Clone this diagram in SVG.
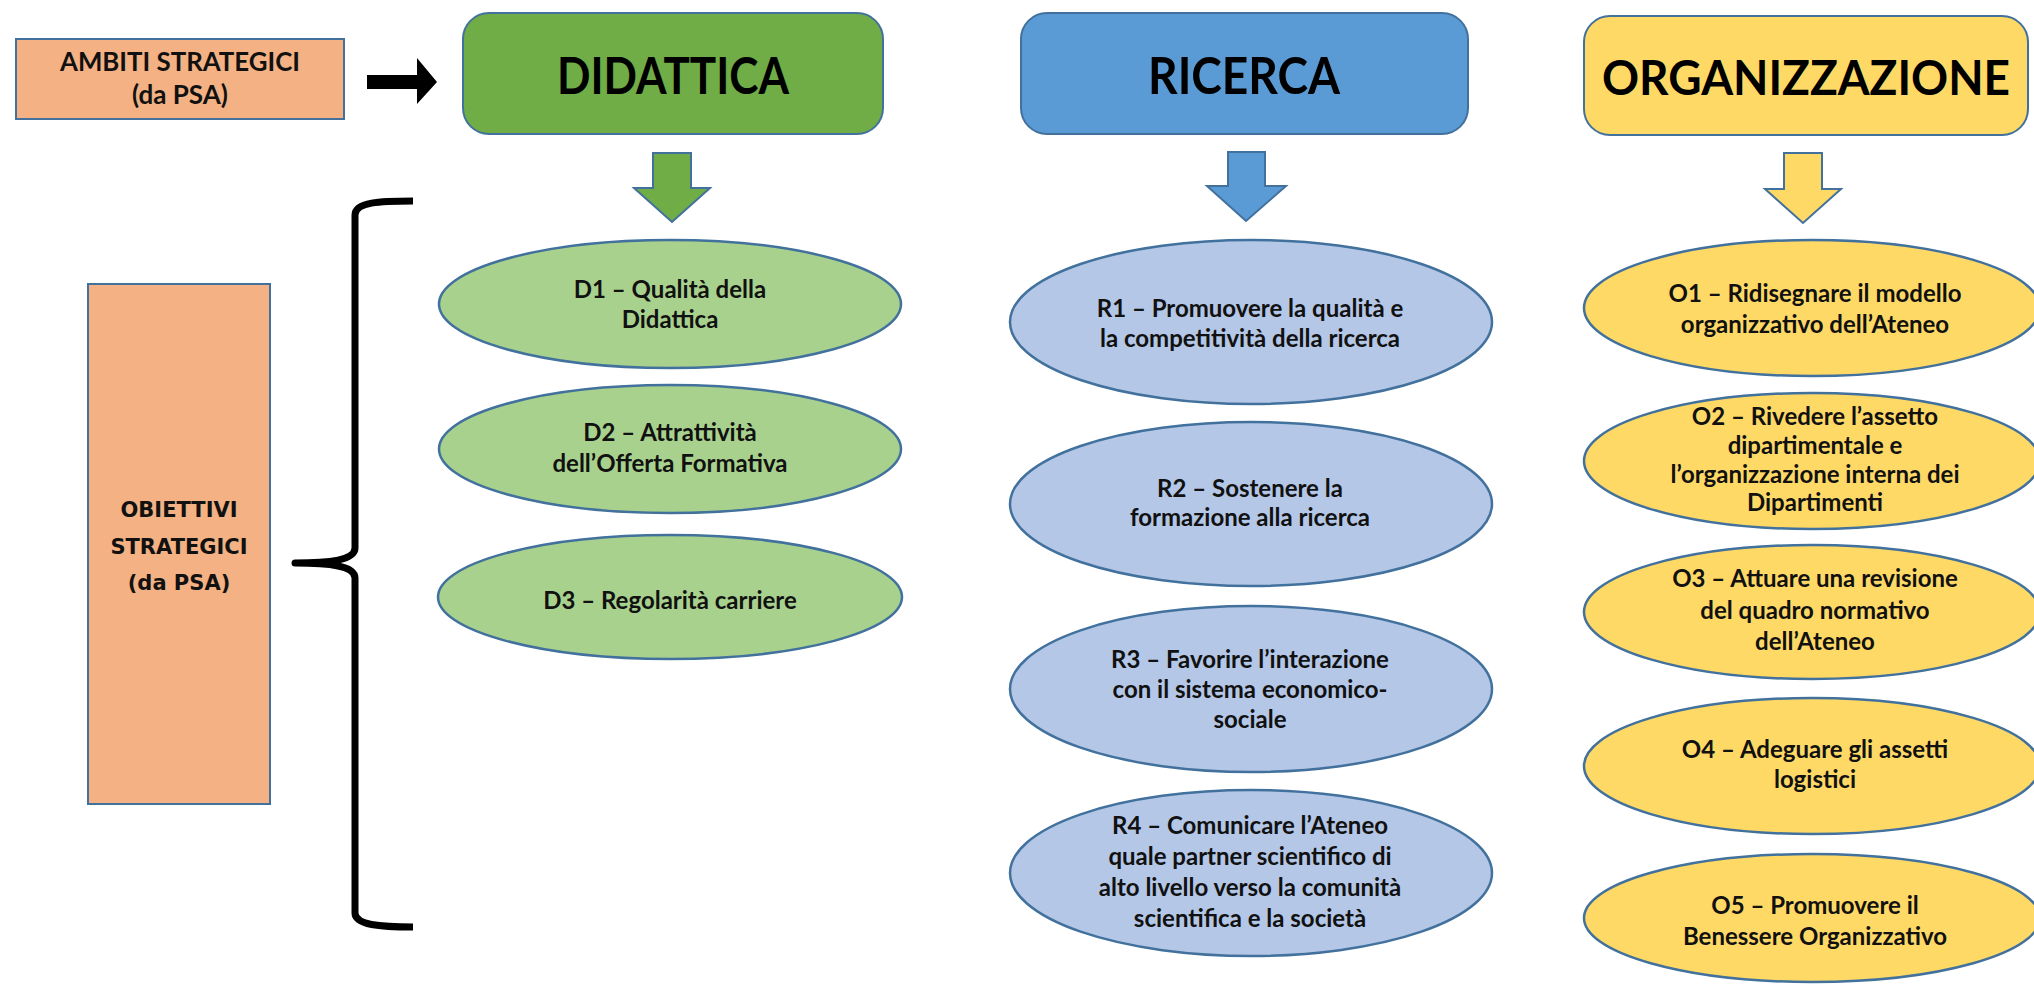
<svg xmlns="http://www.w3.org/2000/svg" width="2034" height="987" viewBox="0 0 2034 987">
<style>
.bg{fill:#ffffff}
.orange{fill:#F4B183;stroke:#41719C;stroke-width:2}
.hdr{stroke:#41719C;stroke-width:2}
.g{fill:#70AD47}
.b{fill:#5B9BD5}
.y{fill:#FFD966}
.el{stroke:#41719C;stroke-width:2.5}
.gl{fill:#A9D18E}
.bl{fill:#B4C7E7}
.yl{fill:#FFD966}
.arr{stroke:#41719C;stroke-width:2}
.t{font-family:Lato,"Liberation Sans",sans-serif;font-weight:bold;fill:#111;text-anchor:middle}
.h{font-size:52px;fill:#000}
.s{font-size:24px}
.ob{font-family:"DejaVu Sans",Verdana,sans-serif;font-weight:bold;font-size:21px;fill:#111;text-anchor:middle}
.brace{fill:none;stroke:#000;stroke-width:7;stroke-linejoin:round;stroke-linecap:butt}
</style>
<rect class="bg" x="0" y="0" width="2034" height="987"/>

<g id="ambiti">
<rect class="orange" x="16" y="39" width="328" height="80"/>
<text class="t" x="180" y="71" style="font-size:26px" textLength="240" lengthAdjust="spacingAndGlyphs">AMBITI STRATEGICI</text>
<text class="t" x="180" y="104" style="font-size:26px">(da PSA)</text>
</g>

<g id="obiettivi">
<rect class="orange" x="88" y="284" width="182" height="520"/>
<text class="ob" x="179" y="517">OBIETTIVI</text>
<text class="ob" x="179" y="554">STRATEGICI</text>
<text class="ob" x="179" y="590">(da PSA)</text>
</g>

<g id="didattica">
<rect class="hdr g" x="463" y="13" width="420" height="121" rx="26"/>
<text class="t h" x="673" y="94" textLength="232" lengthAdjust="spacingAndGlyphs">DIDATTICA</text>
</g>
<g id="ricerca">
<rect class="hdr b" x="1021" y="13" width="447" height="121" rx="26"/>
<text class="t h" x="1244" y="94" textLength="192" lengthAdjust="spacingAndGlyphs">RICERCA</text>
</g>
<g id="organizzazione">
<rect class="hdr y" x="1584" y="16" width="444" height="119" rx="26"/>
<text class="t" x="1806" y="95" style="font-size:47px;fill:#000" textLength="408" lengthAdjust="spacingAndGlyphs">ORGANIZZAZIONE</text>
</g>

<g id="connectors">
<path d="M367,75 H417 V58 L437,82 L417,104 V89 H367 Z" fill="#000"/>
<path class="arr g" d="M653,153 H691 V188 H710 L672,222 L634,188 H653 Z"/>
<path class="arr b" d="M1228,152 H1265 V186 H1286 L1246,221 L1207,186 H1228 Z"/>
<path class="arr y" d="M1784,153 H1822 V189 H1841 L1803,223 L1765,189 H1784 Z"/>
<path class="brace" d="M413,201 C380,201 355,202 355,215 V548 C355,560 330,563 295,563 C330,563 355,566 355,578 V913 C355,925 380,927 413,927"/>
</g>

<g id="D1"><ellipse class="el gl" cx="670" cy="304" rx="231" ry="64"/>
<text class="t s" x="670" y="298">D1 – Qualità della</text><text class="t s" x="670" y="328">Didattica</text></g>
<g id="D2"><ellipse class="el gl" cx="670" cy="449" rx="231" ry="64"/>
<text class="t s" x="670" y="441">D2 – Attrattività</text><text class="t s" x="670" y="472">dell’Offerta Formativa</text></g>
<g id="D3"><ellipse class="el gl" cx="670" cy="597" rx="232" ry="62"/>
<text class="t s" x="670" y="609">D3 – Regolarità carriere</text></g>

<g id="R1"><ellipse class="el bl" cx="1251" cy="322" rx="241" ry="82"/>
<text class="t s" x="1250" y="317">R1 – Promuovere la qualità e</text><text class="t s" x="1250" y="347">la competitività della ricerca</text></g>
<g id="R2"><ellipse class="el bl" cx="1251" cy="504" rx="241" ry="82"/>
<text class="t s" x="1250" y="497">R2 – Sostenere la</text><text class="t s" x="1250" y="526">formazione alla ricerca</text></g>
<g id="R3"><ellipse class="el bl" cx="1251" cy="689" rx="241" ry="83"/>
<text class="t s" x="1250" y="668">R3 – Favorire l’interazione</text><text class="t s" x="1250" y="698">con il sistema economico-</text><text class="t s" x="1250" y="728">sociale</text></g>
<g id="R4"><ellipse class="el bl" cx="1251" cy="873" rx="241" ry="83"/>
<text class="t s" x="1250" y="834">R4 – Comunicare l’Ateneo</text><text class="t s" x="1250" y="865">quale partner scientifico di</text><text class="t s" x="1250" y="896">alto livello verso la comunità</text><text class="t s" x="1250" y="927">scientifica e la società</text></g>

<g id="O1"><ellipse class="el yl" cx="1812" cy="308" rx="228" ry="68"/>
<text class="t s" x="1815" y="302">O1 – Ridisegnare il modello</text><text class="t s" x="1815" y="333">organizzativo dell’Ateneo</text></g>
<g id="O2"><ellipse class="el yl" cx="1812" cy="461" rx="228" ry="68"/>
<text class="t s" x="1815" y="425">O2 – Rivedere l’assetto</text><text class="t s" x="1815" y="454">dipartimentale e</text><text class="t s" x="1815" y="483">l’organizzazione interna dei</text><text class="t s" x="1815" y="511">Dipartimenti</text></g>
<g id="O3"><ellipse class="el yl" cx="1812" cy="612" rx="228" ry="67"/>
<text class="t s" x="1815" y="587">O3 – Attuare una revisione</text><text class="t s" x="1815" y="619">del quadro normativo</text><text class="t s" x="1815" y="650">dell’Ateneo</text></g>
<g id="O4"><ellipse class="el yl" cx="1812" cy="766" rx="228" ry="68"/>
<text class="t s" x="1815" y="758">O4 – Adeguare gli assetti</text><text class="t s" x="1815" y="788">logistici</text></g>
<g id="O5"><ellipse class="el yl" cx="1812" cy="918" rx="228" ry="64"/>
<text class="t s" x="1815" y="914">O5 – Promuovere il</text><text class="t s" x="1815" y="945">Benessere Organizzativo</text></g>
</svg>
